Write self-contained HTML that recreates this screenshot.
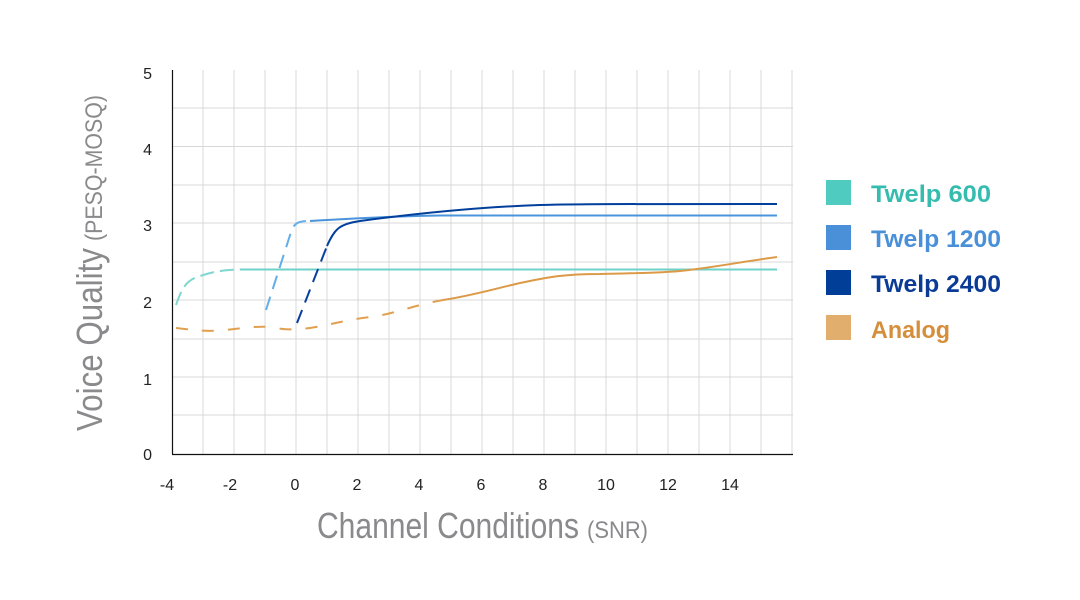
<!DOCTYPE html>
<html><head><style>body{margin:0;background:#fff}svg{display:block}</style></head>
<body>
<svg width="1080" height="600" xmlns="http://www.w3.org/2000/svg" font-family="Liberation Sans, sans-serif">
<g stroke="#d8d8d8" stroke-width="1">
<line x1="172" y1="108" x2="793" y2="108"/><line x1="172" y1="146.5" x2="793" y2="146.5"/>
<line x1="172" y1="185" x2="793" y2="185"/><line x1="172" y1="223" x2="793" y2="223"/>
<line x1="172" y1="262" x2="793" y2="262"/><line x1="172" y1="300" x2="793" y2="300"/>
<line x1="172" y1="339" x2="793" y2="339"/><line x1="172" y1="377" x2="793" y2="377"/>
<line x1="172" y1="415" x2="793" y2="415"/>
<line x1="203" y1="70" x2="203" y2="454"/><line x1="234" y1="70" x2="234" y2="454"/>
<line x1="265" y1="70" x2="265" y2="454"/><line x1="296" y1="70" x2="296" y2="454"/>
<line x1="327" y1="70" x2="327" y2="454"/><line x1="358" y1="70" x2="358" y2="454"/>
<line x1="389" y1="70" x2="389" y2="454"/><line x1="420" y1="70" x2="420" y2="454"/>
<line x1="451" y1="70" x2="451" y2="454"/><line x1="482" y1="70" x2="482" y2="454"/>
<line x1="513" y1="70" x2="513" y2="454"/><line x1="544" y1="70" x2="544" y2="454"/>
<line x1="575" y1="70" x2="575" y2="454"/><line x1="606" y1="70" x2="606" y2="454"/>
<line x1="637" y1="70" x2="637" y2="454"/><line x1="668" y1="70" x2="668" y2="454"/>
<line x1="699" y1="70" x2="699" y2="454"/><line x1="730" y1="70" x2="730" y2="454"/>
<line x1="761" y1="70" x2="761" y2="454"/><line x1="792" y1="70" x2="792" y2="454"/>
</g>
<line x1="172.5" y1="70" x2="172.5" y2="454" stroke="#111" stroke-width="1.2"/>
<line x1="172" y1="454.5" x2="793" y2="454.5" stroke="#111" stroke-width="1.2"/>
<g font-size="16" fill="#222" text-anchor="end">
<text x="152" y="79">5</text><text x="152" y="155">4</text><text x="152" y="231">3</text>
<text x="152" y="308">2</text><text x="152" y="385">1</text><text x="152" y="460">0</text>
</g>
<g font-size="16" fill="#222" text-anchor="middle">
<text x="167" y="490">-4</text><text x="230" y="490">-2</text><text x="295" y="490">0</text>
<text x="357" y="490">2</text><text x="419" y="490">4</text><text x="481" y="490">6</text>
<text x="543" y="490">8</text><text x="606" y="490">10</text><text x="668" y="490">12</text>
<text x="730" y="490">14</text>
</g>
<!-- series -->
<g fill="none" stroke-width="2">
<path d="M176,305 C182,288 186,280 200,276 C215,271 225,270 240,269.5" stroke="#7fd8d0" stroke-dasharray="14,6"/>
<path d="M240,269.5 L777,269.5" stroke="#6fd2c8"/>
<path d="M266,310 L292,229 C296,222 300,221 310,221" stroke="#63aeea" stroke-dasharray="14,8"/>
<path d="M310,221 C360,218 400,216 440,215.5 L777,215.5" stroke="#4a94dc"/>
<path d="M297,323 L327,246" stroke="#0a3ea0" stroke-dasharray="14,8"/>
<path d="M327,246 C335,228 340,224 360,221 C420,213 480,207 540,205 C580,204 600,204 777,204" stroke="#003f9c"/>
<path d="M176,328 C195,330 205,332 225,330 C245,328 255,326 270,327 C285,330 295,330 310,328 C330,325 345,320 370,317 C395,314 410,306 443,300" stroke="#e0a050" stroke-dasharray="12,14"/>
<path d="M443,300 C470,296 490,290 520,283 C545,278 560,274 600,274 C640,273 660,273 680,271 C710,268 740,262 777,257" stroke="#dc9a48"/>
</g>
<!-- legend -->
<rect x="826" y="180" width="25" height="25" fill="#4fcbbf"/>
<rect x="826" y="225" width="25" height="25" fill="#4a90d9"/>
<rect x="826" y="270" width="25" height="25" fill="#003e98"/>
<rect x="826" y="315" width="25" height="25" fill="#e2ae6e"/>
<g font-size="24" font-weight="bold">
<text x="871" y="202" fill="#36bcae" textLength="120" lengthAdjust="spacingAndGlyphs">Twelp 600</text>
<text x="871" y="247" fill="#4a90d9" textLength="130" lengthAdjust="spacingAndGlyphs">Twelp 1200</text>
<text x="871" y="292" fill="#0a3b95" textLength="130" lengthAdjust="spacingAndGlyphs">Twelp 2400</text>
<text x="871" y="338" fill="#d58f3c" textLength="79" lengthAdjust="spacingAndGlyphs">Analog</text>
</g>
<!-- axis titles -->
<g fill="#8a8a8d">
<text x="317" y="538" font-size="36" textLength="262" lengthAdjust="spacingAndGlyphs">Channel Conditions</text>
<text x="587" y="538" font-size="24" textLength="61" lengthAdjust="spacingAndGlyphs">(SNR)</text>
<g transform="translate(102,431) rotate(-90)">
<text x="0" y="0" font-size="36" textLength="183" lengthAdjust="spacingAndGlyphs">Voice Quality</text>
<text x="190" y="0" font-size="24" textLength="146" lengthAdjust="spacingAndGlyphs">(PESQ-MOSQ)</text>
</g>
</g>
</svg>
</body></html>
